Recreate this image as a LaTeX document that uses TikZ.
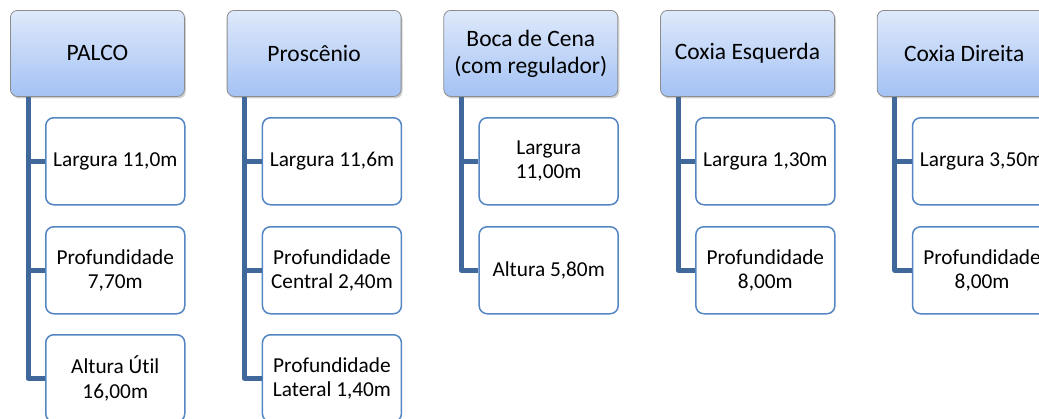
\documentclass[tikz,border=0pt]{standalone}
\usepackage{fontspec}
\setmainfont{Carlito}[Ligatures=NoCommon]
\usetikzlibrary{shadows}
\definecolor{hdtop}{RGB}{222,233,251}
\definecolor{hdbot}{RGB}{164,194,244}
\definecolor{itemblue}{RGB}{84,134,196}
\definecolor{spineblue}{RGB}{65,104,155}
\tikzset{
 hdr/.style={draw=black!45, line width=0.8pt, rounded corners=7pt, top color=hdtop, bottom color=hdbot,
   minimum width=174pt, minimum height=86pt, anchor=north west, align=center,
   font=\fontsize{23.5}{27}\selectfont, inner sep=0pt,
   drop shadow={shadow xshift=1.5pt, shadow yshift=-2pt, opacity=0.3, fill=black!60}},
 item/.style={draw=itemblue, line width=1.5pt, rounded corners=8pt, fill=white,
   minimum width=139pt, minimum height=87pt, anchor=north west, align=center,
   font=\fontsize{21.3}{24.5}\selectfont, inner sep=0pt},
 spine/.style={draw=spineblue, line width=5pt, line join=round}
}
\begin{document}
\begin{tikzpicture}[x=1pt,y=-1pt]
\useasboundingbox (0,0) rectangle (1039,418);
\clip (0,0) rectangle (1039,418);
% headers
\node[hdr] (h1) at (10,10) {PALCO};
\node[hdr] (h2) at (226.7,10) {Proscênio};
\node[hdr] (h3) at (443.4,10) {Boca de Cena\\(com regulador)};
\node[hdr] (h4) at (660.1,10) {Coxia Esquerda};
\node[hdr] (h5) at (876.8,10) {Coxia Direita};
% column 1
\node[item] (c11) at (45,117) {Largura 11,0m};
\node[item] (c12) at (45,226) {Profundidade\\7,70m};
\node[item] (c13) at (45,334) {Altura Útil\\16,00m};
% column 2
\node[item] (c21) at (261.7,117) {Largura 11,6m};
\node[item] (c22) at (261.7,226) {Profundidade\\Central 2,40m};
\node[item] (c23) at (261.7,334) {Profundidade\\Lateral 1,40m};
% column 3
\node[item] (c31) at (478.4,117) {Largura\\11,00m};
\node[item] (c32) at (478.4,226) {Altura 5,80m};
% column 4
\node[item] (c41) at (695.1,117) {Largura 1,30m};
\node[item] (c42) at (695.1,226) {Profundidade\\8,00m};
% column 5
\node[item] (c51) at (911.8,117) {Largura 3,50m};
\node[item] (c52) at (911.8,226) {Profundidade\\8,00m};
% spines
\coordinate (s1) at ([xshift=18pt]h1.south west);
\coordinate (s2) at ([xshift=18pt]h2.south west);
\coordinate (s3) at ([xshift=18pt]h3.south west);
\coordinate (s4) at ([xshift=18pt]h4.south west);
\coordinate (s5) at ([xshift=18pt]h5.south west);
\draw[spine] (s1) |- (c13.west);
\draw[spine] (s1 |- c11.west) -- (c11.west);
\draw[spine] (s1 |- c12.west) -- (c12.west);
\draw[spine] (s2) |- (c23.west);
\draw[spine] (s2 |- c21.west) -- (c21.west);
\draw[spine] (s2 |- c22.west) -- (c22.west);
\draw[spine] (s3) |- (c32.west);
\draw[spine] (s3 |- c31.west) -- (c31.west);
\draw[spine] (s4) |- (c42.west);
\draw[spine] (s4 |- c41.west) -- (c41.west);
\draw[spine] (s5) |- (c52.west);
\draw[spine] (s5 |- c51.west) -- (c51.west);
\end{tikzpicture}
\end{document}
